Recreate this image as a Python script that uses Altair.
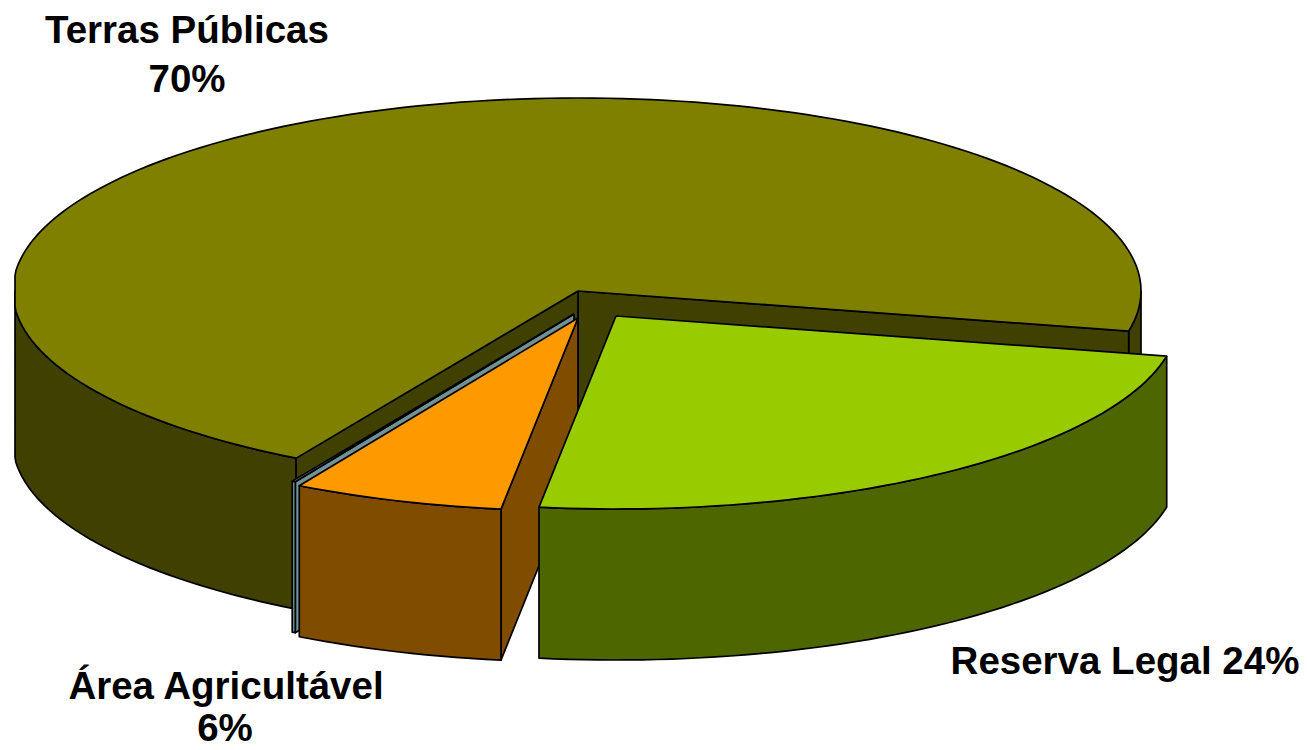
import numpy as np
import pandas as pd
import altair as alt

# chart values
names = ["Terras Públicas", "Reserva Legal", "Área Agricultável", "Outros"]
shares = [70.0, 23.85, 6.05, 0.1]
top_colors = ["#808000", "#99CC00", "#FF9900", "#6F9296"]
side_colors = ["#404000", "#4D6600", "#804D00", "#6F9296"]
label_lines = ["Terras Públicas", "70%", "Reserva Legal 24%", "Área Agricultável", "6%"]

# projection of the pie
RX, RY, DEPTH = 563.0, 193.0, 151.0
START = 120.0
centers = {"Terras Públicas": (578, 291), "Reserva Legal": (616, 316),
           "Área Agricultável": (578, 318), "Outros": (574, 314)}
label_x = [187, 187, 1125, 226, 225]
label_y = [43, 92, 674, 699, 741]

W, H = 1291, 742


def rim(c, a, d=0.0):
    a = np.radians(a)
    cs = np.cos(a)
    dx = RX * cs
    if cs < 0:
        # the reference's outline runs flat along its left extreme
        dx = max(-RX, dx * (1 + 0.004 * cs * cs))
    return c[0] + dx, c[1] + RY * np.sin(a) + d


polys = []


def poly(pts, fill):
    polys.append((pts + [pts[0]], fill))


def arc(a0, a1):
    n = max(2, int(abs(a1 - a0) / 1.5) + 1)
    return np.linspace(a0, a1, n)


def side(c, a0, a1, fill):
    up = [rim(c, a) for a in arc(a0, a1)]
    down = [rim(c, a, DEPTH) for a in arc(a1, a0)]
    poly(up + down, fill)


def wall(c, a, fill):
    poly([c, rim(c, a), rim(c, a, DEPTH), (c[0], c[1] + DEPTH)], fill)


def top(c, a0, a1, fill):
    poly([c] + [rim(c, a) for a in arc(a0, a1)], fill)


angles = {}
a = START
for n, s in zip(names, shares):
    angles[n] = (a, a + s * 3.6)
    a += s * 3.6

# Terra: rim visible on both ends, then walls, then top
n = names[0]
c = centers[n]
a0, a1 = angles[n]
side(c, a0, 180, side_colors[0])
side(c, 360, a1, side_colors[0])
wall(c, a1 - 360, side_colors[0])
wall(c, a0, side_colors[0])
top(c, a0, a1, top_colors[0])

# thin slice
n = names[3]
c = centers[n]
a0, a1 = [v - 360 for v in angles[n]]
wall(c, a0, side_colors[3])
side(c, a0, a1, side_colors[3])
top(c, a0, a1, top_colors[3])

# Area
n = names[2]
c = centers[n]
a0, a1 = [v - 360 for v in angles[n]]
wall(c, a0, side_colors[2])
side(c, a0, a1, side_colors[2])
top(c, a0, a1, top_colors[2])

# Reserva
n = names[1]
c = centers[n]
a0, a1 = [v - 360 for v in angles[n]]
side(c, a0, a1, side_colors[1])
top(c, a0, a1, top_colors[1])

x_scale = alt.Scale(domain=[8, 8 + W], nice=False, zero=False)
y_scale = alt.Scale(domain=[8 + H, 8], nice=False, zero=False)

layers = []
for pts, fill in polys:
    df = pd.DataFrame(pts, columns=["x", "y"])
    df["i"] = range(len(df))
    layers.append(
        alt.Chart(df)
        .mark_line(fill=fill, stroke="#000000", strokeWidth=1.7, strokeJoin="round")
        .encode(
            x=alt.X("x:Q", scale=x_scale, axis=None),
            y=alt.Y("y:Q", scale=y_scale, axis=None),
            order="i:Q",
        )
    )

labels = pd.DataFrame({"t": label_lines, "x": label_x, "y": label_y})
layers.append(
    alt.Chart(labels)
    .mark_text(font="Liberation Sans", fontWeight="bold", fontSize=38.5, color="#000000",
               align="center", baseline="alphabetic")
    .encode(
        x=alt.X("x:Q", scale=x_scale, axis=None),
        y=alt.Y("y:Q", scale=y_scale, axis=None),
        text="t:N",
    )
)

chart = (
    alt.layer(*layers)
    .properties(width=W, height=H, padding=0, autosize=alt.AutoSizeParams(type="none"),
                background="#FFFFFF")
    .configure_view(stroke=None)
)
chart.save("out.html", embed_options={"renderer": "svg", "actions": False})
